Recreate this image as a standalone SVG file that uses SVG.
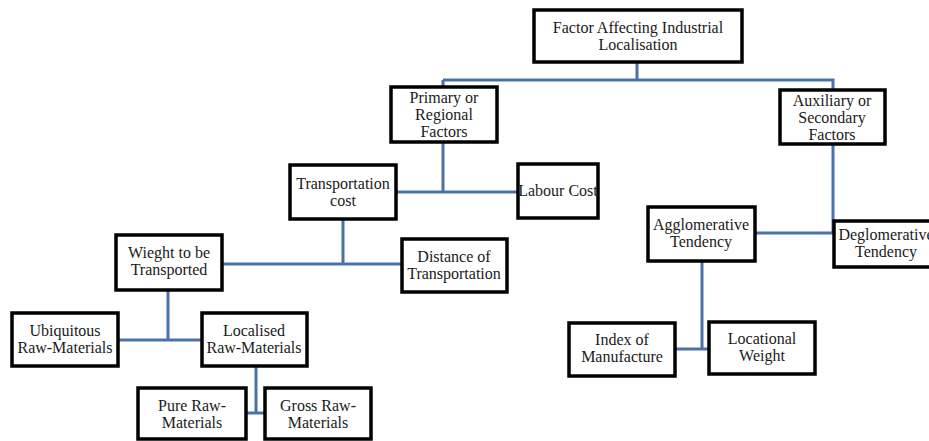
<svg xmlns="http://www.w3.org/2000/svg" width="929" height="441" viewBox="0 0 929 441">
<style>
.box{fill:#fff;stroke:#000;stroke-width:3.5}
.t{font-family:"Liberation Serif","Times New Roman",serif;font-size:16px;fill:#1a1a1a;text-anchor:middle}
.c{fill:none;stroke:#4a72a8;stroke-width:3}
</style>
<rect width="929" height="441" fill="#fff"/>
<g id="connectors">
<path class="c" d="M637 62V80M443 80H833V90M443 80V87"/>
<path class="c" d="M443 142V192M397 192H518"/>
<path class="c" d="M343 219V264M222 264H402"/>
<path class="c" d="M168 290V340M118 340H202"/>
<path class="c" d="M256 366V413M246 413H265"/>
<path class="c" d="M833 144V233M755 233H834"/>
<path class="c" d="M702 261V349M675 349H709"/>
</g>
<g id="n-root"><rect class="box" x="534" y="10" width="208" height="52"/><text class="t" x="638" y="33">Factor Affecting Industrial</text><text class="t" x="638" y="50">Localisation</text></g>
<g id="n-primary"><rect class="box" x="391" y="87" width="106" height="55"/><text class="t" x="444" y="103">Primary or</text><text class="t" x="444" y="120">Regional</text><text class="t" x="444" y="137">Factors</text></g>
<g id="n-auxiliary"><rect class="box" x="780" y="90" width="105" height="54"/><text class="t" x="832" y="106">Auxiliary or</text><text class="t" x="832" y="123">Secondary</text><text class="t" x="832" y="140">Factors</text></g>
<g id="n-transport"><rect class="box" x="290" y="165" width="106" height="54"/><text class="t" x="343" y="189">Transportation</text><text class="t" x="343" y="206">cost</text></g>
<g id="n-labour"><rect class="box" x="518" y="164" width="80" height="54"/><text class="t" x="558" y="196">Labour Cost</text></g>
<g id="n-weight"><rect class="box" x="116" y="235" width="106" height="55"/><text class="t" x="169" y="258">Wieght to be</text><text class="t" x="169" y="275">Transported</text></g>
<g id="n-distance"><rect class="box" x="402" y="239" width="105" height="53"/><text class="t" x="454" y="262">Distance of</text><text class="t" x="454" y="279">Transportation</text></g>
<g id="n-ubiquitous"><rect class="box" x="12" y="313" width="106" height="53"/><text class="t" x="65" y="336">Ubiquitous</text><text class="t" x="65" y="353">Raw-Materials</text></g>
<g id="n-localised"><rect class="box" x="202" y="313" width="105" height="53"/><text class="t" x="254" y="336">Localised</text><text class="t" x="254" y="353">Raw-Materials</text></g>
<g id="n-pure"><rect class="box" x="138" y="388" width="108" height="51"/><text class="t" x="192" y="411">Pure Raw-</text><text class="t" x="192" y="428">Materials</text></g>
<g id="n-gross"><rect class="box" x="265" y="388" width="106" height="51"/><text class="t" x="318" y="411">Gross Raw-</text><text class="t" x="318" y="428">Materials</text></g>
<g id="n-agglomerative"><rect class="box" x="648" y="207" width="107" height="54"/><text class="t" x="701" y="230">Agglomerative</text><text class="t" x="701" y="247">Tendency</text></g>
<g id="n-deglomerative"><rect class="box" x="834" y="221" width="105" height="46"/><text class="t" x="886" y="240">Deglomerative</text><text class="t" x="886" y="257">Tendency</text></g>
<g id="n-index"><rect class="box" x="569" y="323" width="106" height="53"/><text class="t" x="622" y="345">Index of</text><text class="t" x="622" y="362">Manufacture</text></g>
<g id="n-locational"><rect class="box" x="709" y="322" width="106" height="52"/><text class="t" x="762" y="344">Locational</text><text class="t" x="762" y="361">Weight</text></g>
</svg>
